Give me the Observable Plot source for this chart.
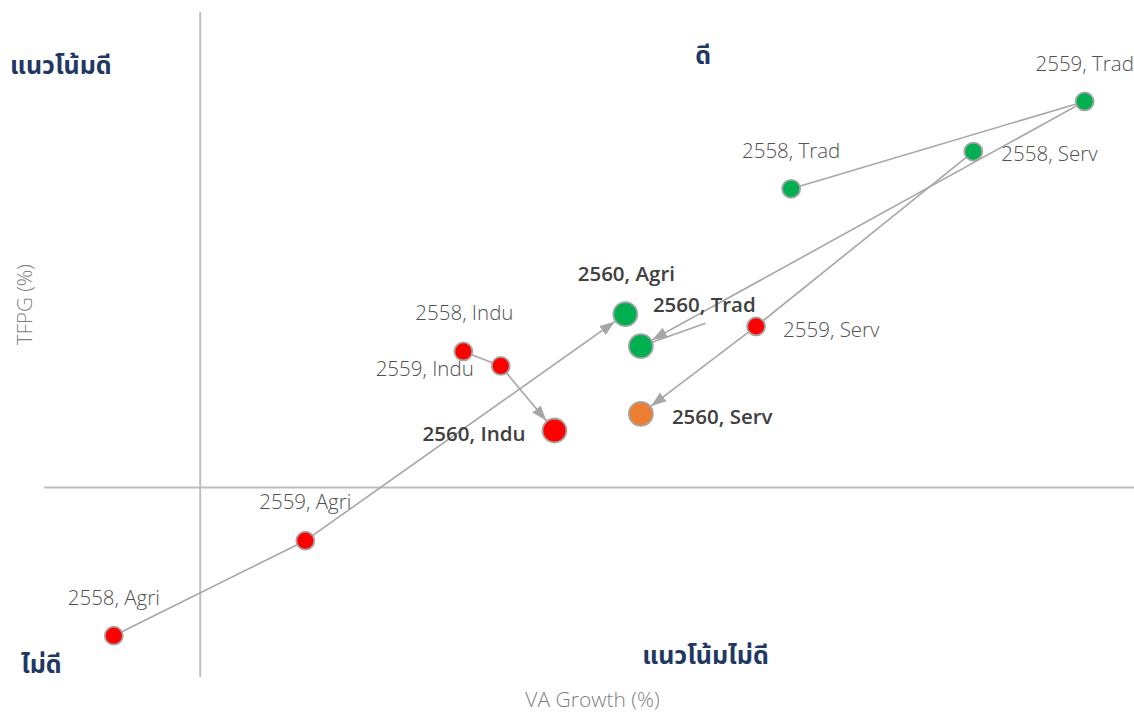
<!DOCTYPE html>
<html><head><meta charset="utf-8">
<script src="https://cdn.jsdelivr.net/npm/d3@7"></script>
<script src="https://cdn.jsdelivr.net/npm/@observablehq/plot@0.6"></script>
<style>body{margin:0;background:#fff;} #chart svg{display:block;}</style>
</head><body><div id="chart"></div>
<script>
// ---- data ----
const years = [2558, 2559, 2560];
const sectors = ["Agri", "Indu", "Trad", "Serv"];
const agriVA   = [-1.11, 1.35, 5.46];
const agriTFPG = [-1.95, -0.70, 2.28];
const induVA   = [3.38, 3.86, 4.55];
const induTFPG = [1.79, 1.60, 0.75];
const tradVA   = [7.59, 11.36, 5.66];
const tradTFPG = [3.93, 5.08, 1.86];
const servVA   = [9.93, 7.14, 5.66];
const servTFPG = [4.42, 2.12, 0.97];
const agriStatus = ["bad", "bad", "good"];
const induStatus = ["bad", "bad", "bad"];
const tradStatus = ["good", "good", "good"];
const servStatus = ["good", "bad", "mid"];
const quadrantLabels = ["แนวโน้มดี", "ดี", "ไม่ดี", "แนวโน้มไม่ดี"];
const axisTitles = ["VA Growth (%)", "TFPG (%)"];
const statusDomain = ["good", "bad", "mid"];

// ---- build table ----
const vaBy = {Agri: agriVA, Indu: induVA, Trad: tradVA, Serv: servVA};
const tfBy = {Agri: agriTFPG, Indu: induTFPG, Trad: tradTFPG, Serv: servTFPG};
const stBy = {Agri: agriStatus, Indu: induStatus, Trad: tradStatus, Serv: servStatus};
const points = [];
for (const s of sectors) years.forEach((yr, i) => points.push({
  year: yr, sector: s, va: vaBy[s][i], tfpg: tfBy[s][i], status: stBy[s][i],
  label: `${yr}, ${s}`
}));
const segs = [];
for (const s of sectors) for (let i = 0; i < years.length - 1; i++) {
  const a = points.find(p => p.sector === s && p.year === years[i]);
  const b = points.find(p => p.sector === s && p.year === years[i + 1]);
  segs.push({sector: s, x1: a.va, y1: a.tfpg, x2: b.va, y2: b.tfpg, final: i === years.length - 2});
}
const lastYear = years[years.length - 1];

// ---- label layout (styling, not data) ----
const layout = {
  "2558,Agri": {anchor: "middle", dx: 0, dy: -37},
  "2559,Agri": {anchor: "middle", dx: 0, dy: -38},
  "2560,Agri": {anchor: "middle", dx: 1, dy: -40},
  "2558,Indu": {anchor: "middle", dx: 1, dy: -38},
  "2559,Indu": {anchor: "end", dx: -27, dy: 4},
  "2560,Indu": {anchor: "end", dx: -29, dy: 4},
  "2558,Trad": {anchor: "middle", dx: 0, dy: -37},
  "2559,Trad": {anchor: "middle", dx: 0, dy: -37},
  "2560,Trad": {anchor: "start", dx: 12, dy: -41},
  "2558,Serv": {anchor: "start", dx: 28, dy: 3},
  "2559,Serv": {anchor: "start", dx: 27, dy: 4},
  "2560,Serv": {anchor: "start", dx: 31, dy: 4}
};
const gray = "#A6A6A6";
const navy = "#1F3864";
const thaiFont = "'Noto Sans Thai', Tahoma, Loma, Garuda, 'Noto Sans', sans-serif";

const labelMarks = points.map(p => {
  const L = layout[p.year + "," + p.sector];
  const bold = p.year === lastYear;
  return Plot.text([p], {
    x: "va", y: "tfpg", text: "label", textAnchor: L.anchor, dx: L.dx, dy: L.dy,
    fontSize: 20.5, fontWeight: bold ? 600 : 300, fill: bold ? "#404040" : "#505050"
  });
});

const trad2560 = points.find(p => p.sector === "Trad" && p.year === lastYear);

const chart = Plot.plot({
  width: 1134, height: 713,
  marginLeft: 44, marginRight: 0, marginTop: 12, marginBottom: 36,
  style: {fontFamily: "'Open Sans', sans-serif", background: "#fff"},
  x: {domain: [-2, 12], axis: null},
  y: {domain: [-2.5, 6.25], axis: null},
  color: {domain: statusDomain, range: ["#00B050", "#FF0000", "#ED7D31"]},
  marks: [
    Plot.ruleX([0], {stroke: "#BFBFBF", strokeWidth: 2}),
    Plot.ruleY([0], {stroke: "#BFBFBF", strokeWidth: 2}),
    Plot.link(segs.filter(d => !d.final), {x1: "x1", y1: "y1", x2: "x2", y2: "y2", stroke: gray, strokeWidth: 1.6}),
    Plot.link(segs.filter(d => d.final), {x1: "x1", y1: "y1", x2: "x2", y2: "y2", stroke: gray, strokeWidth: 1.6,
      ariaDescription: "arrow-links", ariaLabel: () => "arrow-link"}),
    Plot.link([trad2560], {x1: "va", y1: "tfpg", x2: 6.49, y2: 2.16, stroke: gray, strokeWidth: 1.6}),
    Plot.dot(points.filter(d => d.year !== lastYear), {x: "va", y: "tfpg", fill: "status", r: 9, stroke: gray, strokeWidth: 1.8}),
    Plot.dot(points.filter(d => d.year === lastYear), {x: "va", y: "tfpg", fill: "status", r: 12, stroke: gray, strokeWidth: 1.8}),
    ...labelMarks,
    Plot.text([quadrantLabels[0]], {x: -1.79, y: 5.55, text: d => d, fontSize: 25, fontWeight: 700, fill: navy, fontFamily: thaiFont}),
    Plot.text([quadrantLabels[1]], {x: 6.46, y: 5.68, text: d => d, fontSize: 25, fontWeight: 700, fill: navy, fontFamily: thaiFont}),
    Plot.text([quadrantLabels[2]], {x: -2.04, y: -2.34, text: d => d, fontSize: 25, fontWeight: 700, fill: navy, fontFamily: thaiFont}),
    Plot.text([quadrantLabels[3]], {x: 6.49, y: -2.22, text: d => d, fontSize: 25, fontWeight: 700, fill: navy, fontFamily: thaiFont}),
    Plot.text([axisTitles[0]], {frameAnchor: "bottom", lineAnchor: "middle", dx: 3, dy: 23, text: d => d, fontSize: 21, fontWeight: 300, fill: "#7F7F7F"}),
    Plot.text([axisTitles[1]], {frameAnchor: "left", lineAnchor: "middle", dx: -19, rotate: -90, text: d => d, fontSize: 20.5, fontWeight: 300, fill: "#7F7F7F"})
  ]
});

// filled triangular arrowheads on the final-year links
const ns = "http://www.w3.org/2000/svg";
const defs = document.createElementNS(ns, "defs");
const marker = document.createElementNS(ns, "marker");
marker.setAttribute("id", "tri-head");
marker.setAttribute("markerUnits", "userSpaceOnUse");
marker.setAttribute("viewBox", "0 -7 32 14");
marker.setAttribute("markerWidth", "32");
marker.setAttribute("markerHeight", "14");
marker.setAttribute("refX", "28");
marker.setAttribute("refY", "0");
marker.setAttribute("orient", "auto");
const tri = document.createElementNS(ns, "path");
tri.setAttribute("d", "M0,-5.5 L15,0 L0,5.5 Z");
tri.setAttribute("fill", gray);
marker.appendChild(tri);
defs.appendChild(marker);
chart.insertBefore(defs, chart.firstChild);
const targets = new Set();
chart.querySelectorAll('[aria-description="arrow-links"] path, path[aria-label="arrow-link"]').forEach(p => targets.add(p));
targets.forEach(p => p.setAttribute("marker-end", "url(#tri-head)"));

document.getElementById("chart").appendChild(chart);
</script>
</body></html>
